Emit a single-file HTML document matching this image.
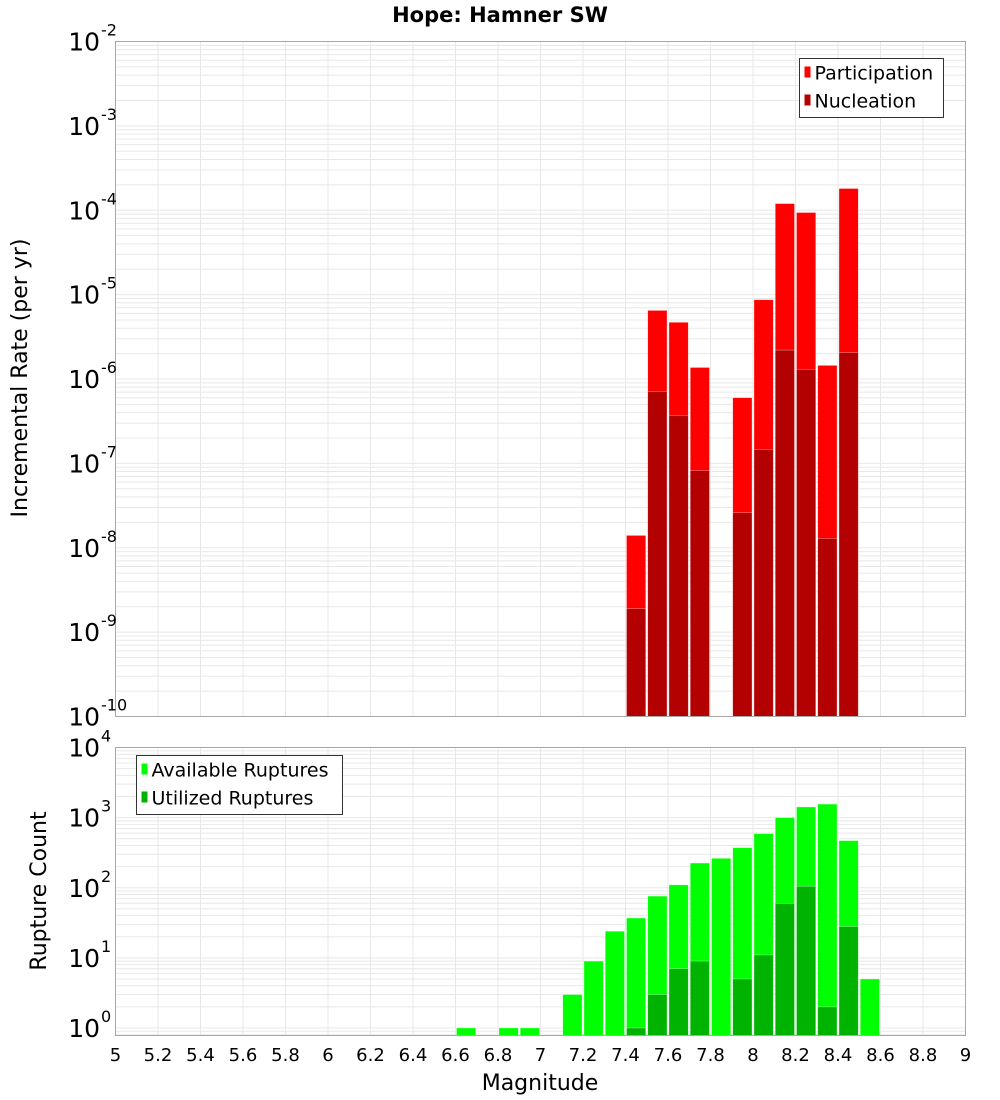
<!DOCTYPE html>
<html><head><meta charset="utf-8"><style>
body{margin:0;background:#fff;}
svg{display:block;font-family:"DejaVu Sans","Liberation Sans",sans-serif;}
</style></head><body>
<svg id="c" width="1000" height="1100" viewBox="0 0 1000 1100" xmlns="http://www.w3.org/2000/svg">
<text x="500" y="22" text-anchor="middle" font-size="21" font-weight="bold">Hope: Hamner SW</text>
<g id="gtop"></g><g id="gbot"></g>
<text transform="translate(27,378) rotate(-90)" text-anchor="middle" font-size="22">Incremental Rate (per yr)</text>
<text transform="translate(46,891) rotate(-90)" text-anchor="middle" font-size="22">Rupture Count</text>
<text x="540" y="1090" text-anchor="middle" font-size="22">Magnitude</text>
</svg>
<script>
const mags = [7.45,7.55,7.65,7.75,7.95,8.05,8.15,8.25,8.35,8.45];
const participation = [1.4e-8,6.5e-6,4.7e-6,1.37e-6,6.0e-7,8.7e-6,1.2e-4,9.4e-5,1.45e-6,1.81e-4];
const nucleation = [1.9e-9,7.1e-7,3.7e-7,8.2e-8,2.6e-8,1.46e-7,2.2e-6,1.3e-6,1.29e-8,2.06e-6];
const countMags = [6.65,6.85,6.95,7.15,7.25,7.35,7.45,7.55,7.65,7.75,7.85,7.95,8.05,8.15,8.25,8.35,8.45,8.55];
const available = [1,1,1,3,9,24,37,76,110,225,263,372,590,1000,1420,1560,470,5];
const utilized = [0,0,0,0,0,0,1,3,7,9,0,5,11,60,105,2,28,0];
const xTicks = [5,5.2,5.4,5.6,5.8,6,6.2,6.4,6.6,6.8,7,7.2,7.4,7.6,7.8,8,8.2,8.4,8.6,8.8,9];
const topExps = [-2,-3,-4,-5,-6,-7,-8,-9,-10];
const botExps = [4,3,2,1,0];

const NS="http://www.w3.org/2000/svg";
const L=115.5,R=965.5;
const x=v=>L+(v-5)/4*(R-L);
const TT=41.5,TB=716.5, yT=v=>TT+(-2-Math.log10(v))/8*(TB-TT);
const BT=747.5,BB=1035.5, BD=(1028-747.5)/4, yB=v=>BT+(4-Math.log10(v))*BD;
function mk(p,t,a){const e=document.createElementNS(NS,t);for(const k in a)e.setAttribute(k,a[k]);p.appendChild(e);return e;}
const gTop=document.getElementById('gtop'), gBot=document.getElementById('gbot');

function panel(g,t,b,yf,lo,hi,name){
  const bg=mk(g,'rect',{x:L,y:t,width:R-L,height:b-t,fill:'#fff'});
  
  
  for(const v of xTicks){const l=mk(g,'line',{x1:x(v),x2:x(v),y1:t,y2:b,stroke:'#e8e8e8','stroke-width':1});
    
    }
  for(let e=lo;e<hi;e++)for(let m=1;m<10;m++){const yy=yf(m*Math.pow(10,e));if(yy<t||yy>b)continue;
    const l=mk(g,'line',{x1:L,x2:R,y1:yy,y2:yy,stroke:'#e8e8e8','stroke-width':1});
    
    }
}
panel(gTop,TT,TB,yT,-10,-2,'top');
panel(gBot,BT,BB,yB,-1,4,'bottom');

function bars(g,xs,vals,yf,base,col,name){
  xs.forEach((m,i)=>{if(!vals[i])return;const y0=yf(vals[i]);
    const r=mk(g,'rect',{x:x(m-0.05)+1,y:y0,width:x(0.1+5)-L-2,height:base-y0,fill:col,stroke:'#fff','stroke-opacity':0.5,'stroke-width':0.6});
    
    });
}
bars(gTop,mags,participation,yT,TB,'#ff0000','participation');
bars(gTop,mags,nucleation,yT,TB,'#b30000','nucleation');
bars(gBot,countMags,available,yB,BB,'#00ff00','available');
bars(gBot,countMags,utilized,yB,BB,'#00b300','utilized');

for(const g of [gTop,gBot]){const b=g===gTop?[TT,TB]:[BT,BB];
  const f=mk(g,'rect',{x:L,y:b[0],width:R-L,height:b[1]-b[0],fill:'none',stroke:'#a8a8a8','stroke-width':1});
  
  }

function ylabels(g,exps,yf,name){
  for(const e of exps){const yy=yf(Math.pow(10,e));
    const t=mk(g,'text',{x:100,y:yy+9,'text-anchor':'end','font-size':25});t.textContent='10';
    
    
    const s=mk(g,'text',{x:101,y:yy-6,'font-size':16});s.textContent=String(e);
    
    }
}
ylabels(gTop,topExps,yT,'top');
ylabels(gBot,botExps,yB,'bottom');
for(const v of xTicks){const t=mk(gBot,'text',{x:x(v),y:1061,'text-anchor':'middle','font-size':18});t.textContent=String(v);
  
  }

function legend(g,x0,y0,w,h,items,name){
  const lg=mk(g,'g',{});
  
  
  mk(lg,'rect',{x:x0,y:y0,width:w,height:h,fill:'#fff',stroke:'#333','stroke-width':1});
  items.forEach((it,i)=>{const cy=y0+14+i*28;
    mk(lg,'rect',{x:x0+5,y:cy-6,width:6,height:11,fill:it[1]});
    const t=mk(lg,'text',{x:x0+15,y:cy+7,'font-size':19});t.textContent=it[0];
    
    });
}
legend(gTop,799.5,58.5,144,59,[['Participation','#ff0000'],['Nucleation','#b30000']],'top-legend');
legend(gBot,136.5,755.5,206,59,[['Available Ruptures','#00ff00'],['Utilized Ruptures','#00b300']],'bottom-legend');
</script>
</body></html>
